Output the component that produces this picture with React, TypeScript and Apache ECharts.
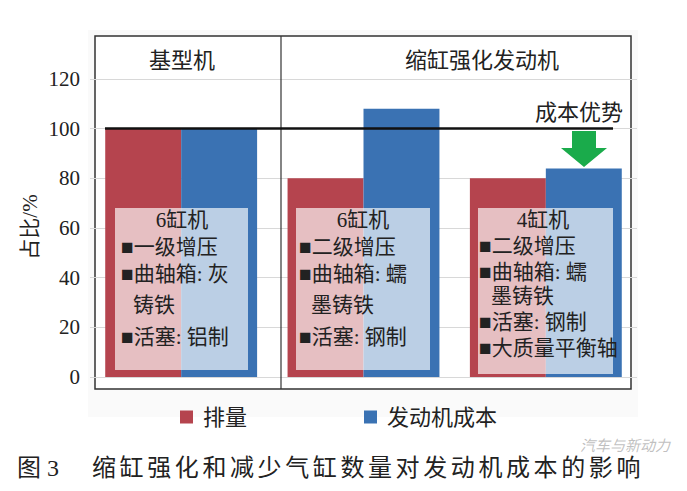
import React, { useEffect, useRef } from "react";
import * as echarts from "echarts";

const categories = ["基型机", "缩缸强化6缸", "缩缸强化4缸"];
const displacement = [100, 80, 80];
const engineCost = [100, 108, 84];
const seriesNames = ["排量", "发动机成本"];
const yTicks = { min: 0, max: 120, interval: 20 };
const headerLabels = ["基型机", "缩缸强化发动机"];
const boxTitles = ["6缸机", "6缸机", "4缸机"];
const boxLines = [
  ["■一级增压", "■曲轴箱: 灰", "  铸铁", "■活塞: 铝制"],
  ["■二级增压", "■曲轴箱: 蠕", "  墨铸铁", "■活塞: 钢制"],
  ["■二级增压", "■曲轴箱: 蠕", "  墨铸铁", "■活塞: 钢制", "■大质量平衡轴"],
];
const captionNo = "图 3";
const captionText = "缩缸强化和减少气缸数量对发动机成本的影响";
const baselineValue = 100;

const RED = "#b5444e";
const BLUE = "#3a72b3";
const FONT = "'Liberation Serif', 'Noto Sans CJK SC', serif";

export default function App() {
  const ref = useRef<HTMLDivElement>(null);
  useEffect(() => {
    if (!ref.current) return;
    const chart = echarts.init(ref.current, null, { renderer: "svg" });

    const boxes = [
      { x: 115, w: 133, lineX: 121, cx: 182, ys: [247, 274, 305, 337] },
      { x: 296, w: 134, lineX: 299, cx: 363, ys: [247, 274, 305, 337] },
      { x: 478, w: 135, lineX: 479, cx: 543, ys: [246, 272, 296, 322, 348] },
    ];
    const graphics: any[] = [
      { type: "rect", z: -10, shape: { x: 88, y: 30, width: 550, height: 387 }, style: { fill: "#fafafa" }, silent: true },
      { type: "rect", z: -9, shape: { x: 95, y: 36, width: 536, height: 353 }, style: { fill: "#fff", stroke: "#333", lineWidth: 1.5 } },
      { type: "line", z: 5, shape: { x1: 281, y1: 36, x2: 281, y2: 389 }, style: { stroke: "#333", lineWidth: 1.2 } },
      { type: "text", z: 10, x: 182, y: 60, style: { text: headerLabels[0], font: `22px ${FONT}`, fill: "#222", align: "center", verticalAlign: "middle" } },
      { type: "text", z: 10, x: 482, y: 60, style: { text: headerLabels[1], font: `22px ${FONT}`, fill: "#222", align: "center", verticalAlign: "middle" } },
      { type: "text", z: 10, x: 30, y: 227, rotation: Math.PI / 2, style: { text: "占比/%", font: `21px ${FONT}`, fill: "#222", align: "center", verticalAlign: "middle" } },
      { type: "text", z: 10, x: 579, y: 112, style: { text: "成本优势", font: `22px ${FONT}`, fill: "#222", align: "center", verticalAlign: "middle" } },
      {
        type: "polygon", z: 10,
        shape: { points: [[572, 131], [596, 131], [596, 148], [607, 148], [584, 167], [561, 148], [572, 148]] },
        style: { fill: "#1aab4b" },
      },
      { type: "text", z: 10, x: 17, y: 468, style: { text: captionNo, font: `24px ${FONT}`, fill: "#222", verticalAlign: "middle" } },
      { type: "text", z: 11, x: 580, y: 446, style: { text: "汽车与新动力", font: `italic 15px ${FONT}`, fill: "rgba(150,150,150,0.6)", verticalAlign: "middle" } },
    ];
    Array.from(captionText).forEach((ch, i) => {
      graphics.push({ type: "text", z: 10, x: 92 + i * 27.6, y: 468, style: { text: ch, font: `24px ${FONT}`, fill: "#222", verticalAlign: "middle" } });
    });
    boxes.forEach((b, i) => {
      graphics.push({ type: "rect", z: 6, shape: { x: b.x, y: 208, width: b.w, height: i === 2 ? 166 : 162 }, style: { fill: "rgba(255,255,255,0.66)" } });
      graphics.push({ type: "text", z: 10, x: b.cx, y: 220, style: { text: boxTitles[i], font: `21px ${FONT}`, fill: "#222", align: "center", verticalAlign: "middle" } });
      boxLines[i].forEach((t, j) => {
        const indent = t.startsWith("  ");
        graphics.push({
          type: "text", z: 10, x: b.lineX + (indent ? 12 : 0), y: b.ys[j],
          style: { text: t.trim(), font: `21px ${FONT}`, fill: "#222", verticalAlign: "middle" },
        });
      });
    });

    chart.setOption({
      animation: false,
      backgroundColor: "#fff",
      grid: { left: 90, right: 50, top: 79, bottom: 114 },
      xAxis: {
        type: "category",
        data: categories,
        axisLabel: { show: false },
        axisTick: { show: false },
        axisLine: { show: false },
      },
      yAxis: {
        type: "value",
        min: yTicks.min,
        max: yTicks.max,
        interval: yTicks.interval,
        axisLabel: { fontSize: 21, fontFamily: FONT, color: "#222", margin: 10 },
        axisLine: { show: false },
        axisTick: { show: false },
        splitLine: { lineStyle: { color: "#d8d8d8", width: 1 } },
      },
      legend: {
        left: 175,
        top: 401,
        itemWidth: 13,
        itemHeight: 13,
        itemGap: 117,
        icon: "rect",
        textStyle: { fontSize: 22, fontFamily: FONT, color: "#222", padding: [0, 0, 0, 5] },
        data: seriesNames,
      },
      series: [
        {
          name: seriesNames[0],
          type: "bar",
          data: displacement,
          barGap: "0%",
          barCategoryGap: "16.7%",
          itemStyle: { color: RED },
          z: 2,
          markLine: {
            symbol: "none",
            silent: true,
            label: { show: false },
            lineStyle: { color: "#111", width: 2.5, type: "solid" },
            data: [[{ x: 105, yAxis: baselineValue }, { x: 613, yAxis: baselineValue }]],
            z: 8,
          },
        },
        {
          name: seriesNames[1],
          type: "bar",
          data: engineCost,
          barGap: "0%",
          barCategoryGap: "16.7%",
          itemStyle: { color: BLUE },
          z: 2,
        },
      ],
      graphic: graphics,
    });
    return () => chart.dispose();
  }, []);
  return <div ref={ref} style={{ position: "fixed", left: 0, top: 0, width: 687, height: 491 }} />;
}
